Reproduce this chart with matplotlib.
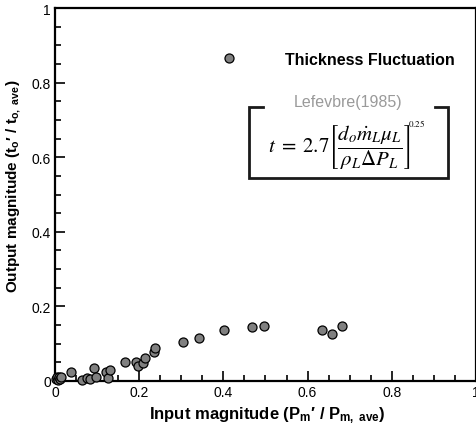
import matplotlib
matplotlib.use("Agg")
import matplotlib.pyplot as plt
from matplotlib.ticker import MultipleLocator
from matplotlib.lines import Line2D

# input magnitude vs output magnitude
x_in = [0.003, 0.005, 0.008, 0.010, 0.012, 0.015, 0.039, 0.065, 0.075, 0.084,
        0.093, 0.097, 0.120, 0.125, 0.131, 0.166, 0.193, 0.198, 0.208, 0.213,
        0.234, 0.237, 0.303, 0.341, 0.402, 0.468, 0.497, 0.634, 0.657, 0.682]
y_out = [0.005, 0.012, 0.002, 0.010, 0.005, 0.012, 0.025, 0.003, 0.008, 0.005,
         0.034, 0.012, 0.023, 0.007, 0.030, 0.050, 0.052, 0.041, 0.048, 0.062,
         0.079, 0.089, 0.104, 0.116, 0.138, 0.145, 0.147, 0.137, 0.125, 0.148]
ticks = [0, 0.2, 0.4, 0.6, 0.8, 1]
tick_labels = ["0", "0.2", "0.4", "0.6", "0.8", "1"]

plt.rcParams["font.family"] = ["Liberation Sans", "DejaVu Sans"]
plt.rcParams["mathtext.fontset"] = "custom"
plt.rcParams["mathtext.rm"] = "Liberation Sans:bold"
plt.rcParams["mathtext.it"] = "Liberation Sans:bold"
plt.rcParams["mathtext.bf"] = "Liberation Sans:bold"

fig = plt.figure(figsize=(4.77, 4.27), dpi=100)
ax = fig.add_axes([0.1153, 0.1054, 0.8826, 0.8735])

ax.plot(x_in, y_out, "o", ms=6.5, mfc="#808080", mec="black", mew=0.9,
        clip_on=False, zorder=3)

ax.set_xlim(0, 1)
ax.set_ylim(0, 1)
ax.set_xticks(ticks)
ax.set_xticklabels(tick_labels)
ax.set_yticks(ticks)
ax.set_yticklabels(tick_labels)
ax.xaxis.set_minor_locator(MultipleLocator(0.05))
ax.yaxis.set_minor_locator(MultipleLocator(0.05))
ax.tick_params(which="both", direction="in", top=False, right=False,
               labelsize=10, width=1.2, pad=3)
ax.tick_params(which="major", length=7)
ax.tick_params(which="minor", length=4)
for s in ax.spines.values():
    s.set_linewidth(1.6)

ax.set_xlabel(r"Input magnitude (P$_\mathrm{m}$′ / P$_\mathrm{m,\ ave}$)",
              fontsize=12, fontweight="bold")
ax.xaxis.set_label_coords(0.503, -0.064)
ax.set_ylabel(r"Output magnitude (t$_\mathrm{o}$′ / t$_\mathrm{o,\ ave}$)",
              fontsize=11, fontweight="bold")
ax.yaxis.set_label_coords(-0.075, 0.525)

handle = Line2D([], [], ls="none", marker="o", ms=6.5, mfc="#808080",
                mec="black", mew=0.9)
leg = ax.legend([handle], ["Thickness Fluctuation"], loc="center left",
                bbox_to_anchor=(0.361, 0.863), frameon=False,
                handletextpad=3.0, handlelength=1.0,
                prop={"weight": "bold", "size": 11.5})

# Lefevbre correlation bracket
lw = 2.0
ax.plot([0.494, 0.460, 0.460, 0.933, 0.933, 0.903],
        [0.735, 0.735, 0.544, 0.544, 0.735, 0.735],
        color="#1a1a1a", lw=lw, transform=ax.transAxes, clip_on=False,
        solid_joinstyle="miter")
ax.text(0.695, 0.75, "Lefevbre(1985)", transform=ax.transAxes,
        ha="center", va="center", color="#9a9a9a", fontsize=11.5)
ax.text(0.674, 0.627,
        r"$t\;=\;2.7\left[\dfrac{d_o\dot{m}_L\mu_L}{\rho_L\Delta P_L}\right]$",
        transform=ax.transAxes, ha="center", va="center", fontsize=15,
        math_fontfamily="stix")
ax.text(0.838, 0.694, r"$0.25$", transform=ax.transAxes,
        ha="left", va="center", fontsize=6.5, math_fontfamily="stix")

fig.savefig("out.png", dpi=100)
